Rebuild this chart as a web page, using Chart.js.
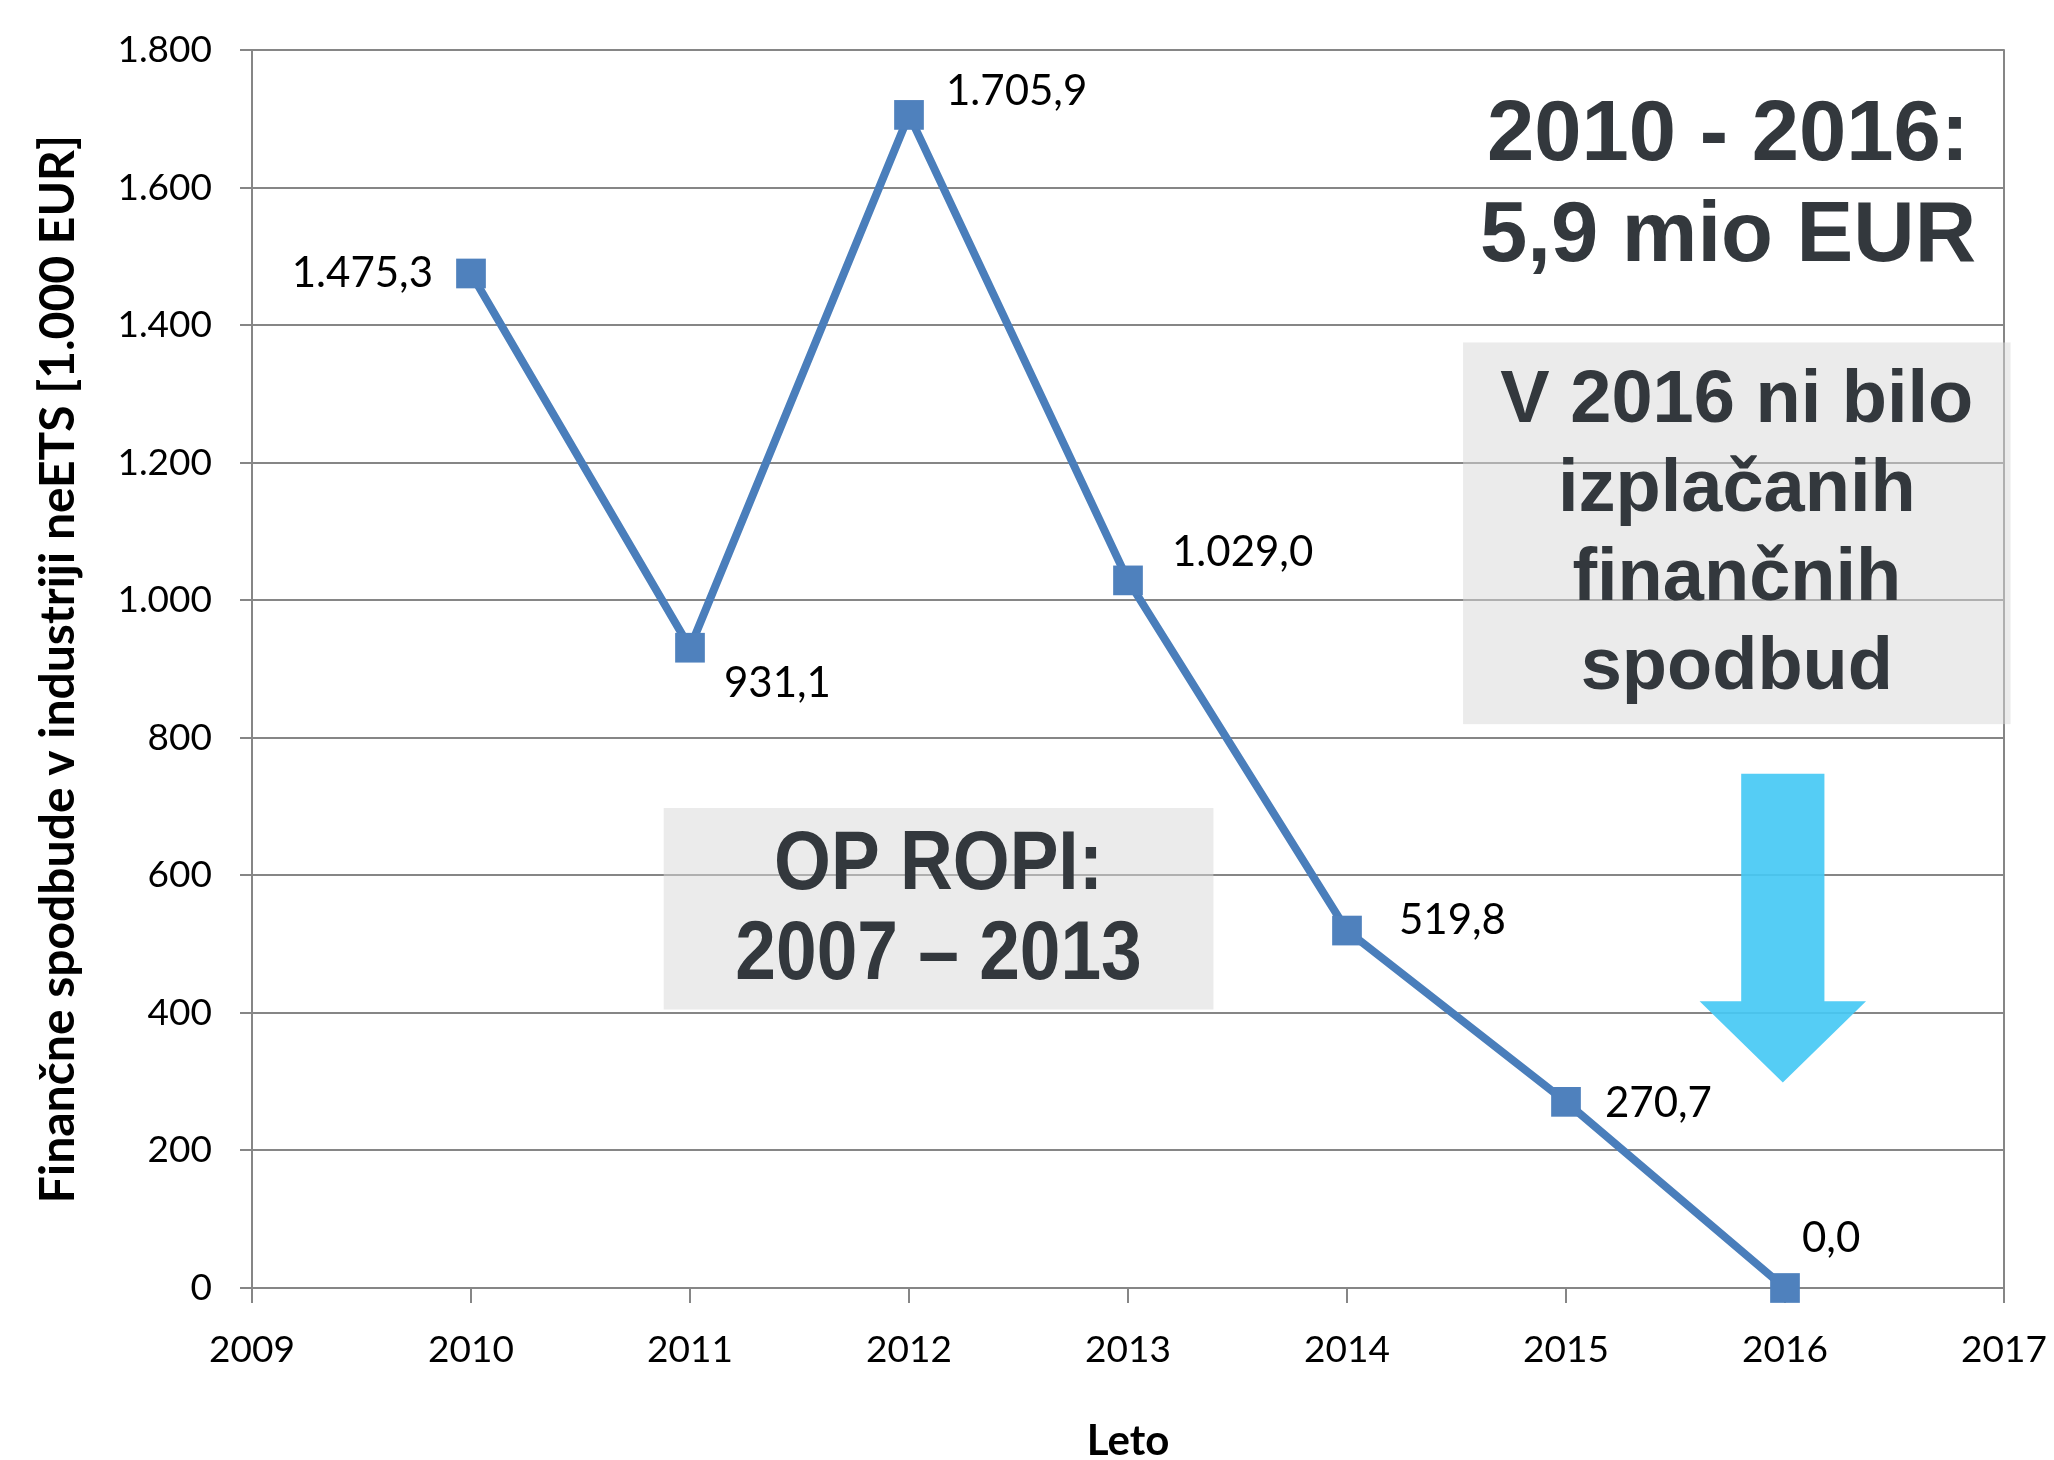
<!DOCTYPE html>
<html>
<head>
<meta charset="utf-8">
<script src="https://cdn.jsdelivr.net/npm/chart.js@4.4.1/dist/chart.umd.min.js"></script>
<style>
  html, body { margin: 0; padding: 0; background: #fff; }
  #wrap { width: 2054px; height: 1460px; }
</style>
</head>
<body>
<div id="wrap"><canvas id="myChart"></canvas></div>
<script>
// Data
var years = [2010, 2011, 2012, 2013, 2014, 2015, 2016];
var values = [1475.3, 931.1, 1705.9, 1029.0, 519.8, 270.7, 0.0];
var xMin = 2009, xMax = 2017;
var yMin = 0, yMax = 1800, yStep = 200;
var yTitle = "Finančne spodbude v industriji neETS [1.000 EUR]";
var xTitle = "Leto";

// label placement next to each point: [align, dx, dy]
var labelPos = [
    ['right', -38, 0],
    ['left', 34, 36],
    ['left', 37, -23],
    ['left', 44, -28],
    ['left', 52, -10],
    ['left', 39, 2],
    ['left', 17, -50]
];

var gridColor = '#868686';
var lineColor = '#4A7EBB';
var noteColor = '#33383d';

// number like 1.475,3
function fmt(v, dec) {
    var parts = v.toFixed(dec).split('.');
    var whole = parts[0].replace(/\B(?=(\d{3})+(?!\d))/g, '.');
    return dec ? whole + ',' + parts[1] : whole;
}

//Labels on points
var pointLabels = {
    id: 'pointLabels',
    afterDatasetsDraw: function (chart) {
        var ctx = chart.ctx;
        var meta = chart.getDatasetMeta(0);
        ctx.save();
        ctx.font = '42px Lato';
        ctx.fillStyle = '#000';
        ctx.textBaseline = 'middle';
        meta.data.forEach(function (pt, i) {
            var p = labelPos[i];
            ctx.textAlign = p[0];
            ctx.fillText(fmt(values[i], 1), pt.x + p[1], pt.y + p[2]);
        });
        ctx.restore();
    }
};

//Boxes, texts and arrow
function drawLines(ctx, lines, cx, cy, lh, sx) {
    var y0 = cy - (lines.length - 1) * lh / 2;
    lines.forEach(function (t, i) {
        ctx.save();
        ctx.translate(cx, y0 + i * lh);
        ctx.scale(sx, 1);
        ctx.fillText(t, 0, 0);
        ctx.restore();
    });
}

var notes = {
    id: 'notes',
    beforeDatasetsDraw: function (chart) {
        var ctx = chart.ctx, xs = chart.scales.x, ys = chart.scales.y;
        var area = chart.chartArea;
        ctx.save();

        // right frame
        ctx.strokeStyle = gridColor;
        ctx.lineWidth = 2;
        ctx.beginPath();
        ctx.moveTo(area.right, area.top - 1);
        ctx.lineTo(area.right, area.bottom + 1);
        ctx.stroke();

        ctx.textAlign = 'center';
        ctx.textBaseline = 'middle';
        ctx.fillStyle = noteColor;

        // OP ROPI box
        var l = xs.getPixelForValue(2010.88), r = xs.getPixelForValue(2013.39);
        var t = ys.getPixelForValue(698), b = ys.getPixelForValue(405);
        ctx.fillStyle = 'rgba(215,215,215,0.5)';
        ctx.fillRect(l, t, r - l, b - t);
        ctx.fillStyle = noteColor;
        ctx.font = 'bold 84px "Liberation Sans", Arial';
        drawLines(ctx, ['OP ROPI:', '2007 – 2013'], (l + r) / 2, (t + b) / 2 + 2, 90, 0.87);

        // V 2016 box
        l = xs.getPixelForValue(2014.53); r = xs.getPixelForValue(2017.03);
        t = ys.getPixelForValue(1375); b = ys.getPixelForValue(820);
        ctx.fillStyle = 'rgba(215,215,215,0.5)';
        ctx.fillRect(l, t, r - l, b - t);
        ctx.fillStyle = noteColor;
        ctx.font = 'bold 74px "Liberation Sans", Arial';
        drawLines(ctx, ['V 2016 ni bilo', 'izplačanih', 'finančnih', 'spodbud'], (l + r) / 2, (t + b) / 2 + 2, 89, 1);

        // total
        ctx.font = 'bold 85px "Liberation Sans", Arial';
        drawLines(ctx, ['2010 - 2016:', '5,9 mio EUR'], xs.getPixelForValue(2015.74), ys.getPixelForValue(1601), 101, 1);

        // arrow
        var cx = xs.getPixelForValue(2015.99);
        var sw = xs.getPixelForValue(2009.19) - xs.getPixelForValue(2009);
        var hw = xs.getPixelForValue(2009.38) - xs.getPixelForValue(2009);
        var top = ys.getPixelForValue(748), hs = ys.getPixelForValue(417), tip = ys.getPixelForValue(299);
        ctx.fillStyle = 'rgba(70,201,244,0.92)';
        ctx.beginPath();
        ctx.moveTo(cx - sw, top);
        ctx.lineTo(cx + sw, top);
        ctx.lineTo(cx + sw, hs);
        ctx.lineTo(cx + hw, hs);
        ctx.lineTo(cx, tip);
        ctx.lineTo(cx - hw, hs);
        ctx.lineTo(cx - sw, hs);
        ctx.closePath();
        ctx.fill();

        ctx.restore();
    }
};

var ctx = document.getElementById("myChart").getContext("2d");

var myChart = new Chart(ctx, {
    type: 'line',
    data: {
        datasets: [{
            data: years.map(function (y, i) { return { x: y, y: values[i] }; }),
            borderColor: lineColor,
            borderWidth: 8,
            backgroundColor: '#4F81BD',
            pointStyle: 'rect',
            pointRadius: 21,
            pointHoverRadius: 21,
            pointBorderWidth: 0,
            tension: 0,
            clip: false
        }]
    },
    options: {
        responsive: true,
        maintainAspectRatio: false,
        animation: false,
        events: [],
        layout: { autoPadding: false, padding: { top: 49, right: 50, left: 0, bottom: 0 } },
        plugins: {
            legend: { display: false },
            tooltip: { enabled: false }
        },
        scales: {
            x: {
                type: 'linear',
                min: xMin,
                max: xMax,
                afterFit: function (s) {
                    s.height = 172;
                    s.paddingLeft = 0;
                    s.paddingRight = 0;
                },
                ticks: {
                    stepSize: 1,
                    padding: 25,
                    color: '#000',
                    font: { family: 'Lato', size: 37 },
                    callback: function (v) { return String(v); }
                },
                grid: { drawOnChartArea: false, drawTicks: true, tickLength: 15, color: gridColor, lineWidth: 2 },
                border: { color: gridColor, width: 2 },
                title: {
                    display: true,
                    text: xTitle,
                    color: '#000',
                    font: { family: 'Lato', size: 42, weight: 'bold' },
                    padding: { top: 0, bottom: -7 }
                }
            },
            y: {
                min: yMin,
                max: yMax,
                afterFit: function (s) { s.width = 252; },
                ticks: {
                    stepSize: yStep,
                    padding: 28,
                    color: '#000',
                    font: { family: 'Lato', size: 37 },
                    callback: function (v) { return fmt(v, 0); }
                },
                grid: { color: gridColor, lineWidth: 2, tickLength: 12 },
                border: { color: gridColor, width: 2 },
                title: {
                    display: true,
                    text: yTitle,
                    color: '#000',
                    font: { family: 'Lato', size: 48, weight: 'bold' },
                    padding: { top: 30, bottom: 0 }
                }
            }
        }
    },
    plugins: [notes, pointLabels]
});
</script>
</body>
</html>
